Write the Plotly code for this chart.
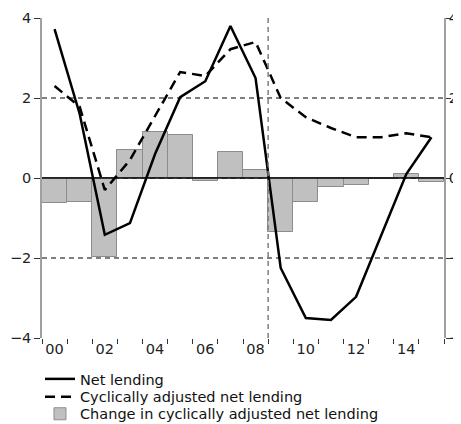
import plotly.graph_objects as go

years = list(range(2000, 2016))
net_lending = [3.72, 1.6, -1.42, -1.13, 0.6, 2.02, 2.42, 3.8, 2.5, -2.25, -3.5, -3.55,
               -2.97, -1.45, 0.1, 1.02]
cyc_adjusted = [2.3, 1.78, -0.3, 0.45, 1.55, 2.65, 2.55, 3.22, 3.4, 2.0, 1.52, 1.25,
                1.02, 1.02, 1.12, 1.02]
change_cyc = [-0.63, -0.6, -1.98, 0.7, 1.15, 1.07, -0.08, 0.65, 0.2, -1.35, -0.6, -0.23,
              -0.18, -0.02, 0.1, -0.1]
x_labels = ["00", "02", "04", "06", "08", "10", "12", "14"]
y_ticks = [-4, -2, 0, 2, 4]
break_year = 2008.5

FONT = "DejaVu Sans"
GRID = "#7f7f7f"
AXIS = "#a0a0a0"


def legend_box(y):
    """One single-entry legend, so rows can sit as tight as in the reference."""
    return dict(
        x=-0.005, y=y, xanchor="left", yanchor="middle",
        itemwidth=30, bgcolor="rgba(0,0,0,0)",
        font=dict(family=FONT, size=14.5, color="#111"),
    )


fig = go.Figure()

fig.add_trace(go.Scatter(
    x=years, y=net_lending, mode="lines", name="Net lending", legend="legend",
    line=dict(color="black", width=2.5),
))
fig.add_trace(go.Scatter(
    x=years, y=cyc_adjusted, mode="lines", name="Cyclically adjusted net lending",
    legend="legend2", line=dict(color="black", width=2.5, dash="10px,6px"),
))
fig.add_trace(go.Bar(
    x=years, y=change_cyc, width=1, name="Change in cyclically adjusted net lending",
    legend="legend3",
    marker=dict(color="#c0c0c0", line=dict(color="#8c8c8c", width=1)),
))

# invisible trace to carry the right-hand axis
fig.add_trace(go.Scatter(x=years, y=cyc_adjusted, yaxis="y2", mode="lines",
                         line=dict(width=0), hoverinfo="skip", showlegend=False,
                         opacity=0))

fig.add_vline(x=break_year, line=dict(color=GRID, width=1.5, dash="5px,4px"))
fig.add_hline(y=0, line=dict(color="black", width=1.5))

# the page body adds an 8px margin, so the figure is 8px smaller than the window
fig.update_layout(
    width=453, height=416,
    margin=dict(l=34, r=17, t=10, b=86, autoexpand=False),
    paper_bgcolor="white", plot_bgcolor="white",
    font=dict(family=FONT, size=14.5, color="#222"),
    bargap=0,
    showlegend=True,
    legend=legend_box(-0.128),
    legend2=legend_box(-0.184),
    legend3=legend_box(-0.237),
    xaxis=dict(
        range=[1999.5, 2015.5],
        tickmode="array",
        tickvals=years[::2], ticktext=x_labels,
        ticks="", showgrid=False, zeroline=False, showline=False,
        minor=dict(tickmode="array", tickvals=[y - 0.5 for y in years] + [years[-1] + 0.5],
                   ticks="outside", ticklen=5, tickcolor="#333", showgrid=False),
    ),
    yaxis=dict(
        range=[-4, 4], tickvals=y_ticks,
        ticks="outside", ticklen=6, tickcolor="#333",
        showgrid=True, gridcolor=GRID, gridwidth=1.5, griddash="5px,4px",
        zeroline=False,
        showline=True, linecolor=AXIS, linewidth=1.5,
    ),
    yaxis2=dict(
        range=[-4, 4], tickvals=y_ticks, overlaying="y", side="right",
        ticks="outside", ticklen=5, tickcolor="#333", ticklabelstandoff=-5,
        showgrid=False, zeroline=False,
        showline=True, linecolor=AXIS, linewidth=1.5,
    ),
)

fig.write_html("out.html")
